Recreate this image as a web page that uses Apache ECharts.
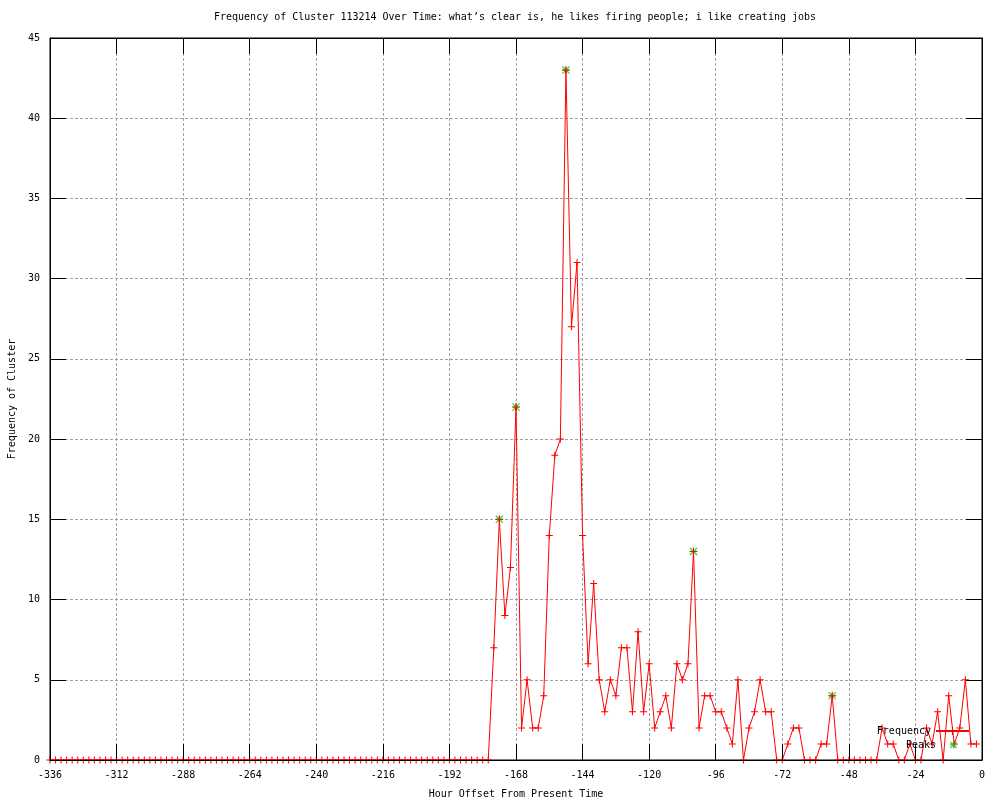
<!DOCTYPE html>
<html>
<head>
<meta charset="utf-8">
<script src="https://cdn.jsdelivr.net/npm/echarts@6/dist/echarts.min.js"></script>
<style>html,body{margin:0;padding:0;background:#fff}#c{width:1000px;height:800px}</style>
</head>
<body>
<div id="c"></div>
<script>
// ---- data ----
const titleText = 'Frequency of Cluster 113214 Over Time: what’s clear is, he likes firing people; i like creating jobs';
const xName = 'Hour Offset From Present Time';
const yName = 'Frequency of Cluster';
const startHour = -336;   // first sample
const stepHours = 2;      // samples every 2 hours
const frequency = [
  0,0,0,0,0,0,0,0,0,0, 0,0,0,0,0,0,0,0,0,0,
  0,0,0,0,0,0,0,0,0,0, 0,0,0,0,0,0,0,0,0,0,
  0,0,0,0,0,0,0,0,0,0, 0,0,0,0,0,0,0,0,0,0,
  0,0,0,0,0,0,0,0,0,0, 0,0,0,0,0,0,0,0,0,0,
  7,15,9,12,22,2,5,2,2,4,
  14,19,20,43,27,31,14,6,11,5,
  3,5,4,7,7,3,8,3,6,2,
  3,4,2,6,5,6,13,2,4,4,
  3,3,2,1,5,0,2,3,5,3,
  3,0,0,1,2,2,0,0,0,1,
  1,4,0,0,0,0,0,0,0,0,
  2,1,1,0,0,1,0,0,2,1,
  3,0,4,1,2,5,1,1
];
const peakHours  = [-174, -168, -150, -104, -54];
const peakValues = [15, 22, 43, 13, 4];
const xMin = -336, xMax = 0, xStep = 24;
const yMin = 0, yMax = 45, yStep = 5;

// ---- build chart ----
const freqData = frequency.map((v, i) => [startHour + i * stepHours, v]);
const peakData = peakHours.map((h, i) => [h, peakValues[i]]);

const FONT = 'DejaVu Sans Mono';
const PLUS = 'path://M0,3L7,3L7,4L0,4Z M3,0L4,0L4,7L3,7Z';
const STAR = 'path://M0,3L7,3L7,4L0,4Z M3,0L4,0L4,7L3,7Z M0,0.7L0.7,0L7,6.3L6.3,7Z M7,0.7L6.3,0L0,6.3L0.7,7Z';
const gridLine = () => ({ show: true, lineStyle: { color: '#a0a0a0', type: [3, 2], width: 1 } });
const blackLine = () => ({ show: true, onZero: false, lineStyle: { color: '#000', width: 1 } });
const tick = () => ({ show: true, inside: true, length: 16, lineStyle: { color: '#000', width: 1 } });
const legendText = { fontFamily: FONT, fontSize: 10, color: '#000' };

const chart = echarts.init(document.getElementById('c'), null, { renderer: 'canvas' });
chart.setOption({
  animation: false,
  backgroundColor: '#fff',
  textStyle: { fontFamily: FONT },
  title: {
    text: titleText, left: 214, top: 12, padding: 0,
    textStyle: { fontFamily: FONT, fontSize: 10, fontWeight: 'normal', color: '#000' }
  },
  grid: { left: 50, right: 18, top: 38, bottom: 40, containLabel: false, outerBoundsMode: 'none',
          show: true, borderColor: '#000', borderWidth: 1, backgroundColor: 'transparent' },
  legend: [
    { data: ['Frequency'], right: 30, top: 726, padding: 0, align: 'right', itemWidth: 33, itemHeight: 10,
      textStyle: legendText },
    { data: [{ name: 'Peaks', icon: STAR }], right: 43, top: 740, padding: 0, align: 'right', itemWidth: 7, itemHeight: 7,
      textStyle: Object.assign({ padding: [0, 9, 0, 0] }, legendText) }
  ],
  xAxis: [
    { type: 'value', position: 'bottom', min: xMin, max: xMax, interval: xStep, z: 5,
      name: xName, nameLocation: 'middle', nameGap: 29,
      nameTextStyle: { fontFamily: FONT, fontSize: 10, color: '#000' },
      axisLine: blackLine(), axisTick: tick(), splitLine: { show: false },
      axisLabel: { fontFamily: FONT, fontSize: 10, color: '#000', margin: 10, showMinLabel: true, showMaxLabel: true } },
    { type: 'value', position: 'top', min: xMin, max: xMax, interval: xStep, z: 0,
      axisLine: blackLine(), axisTick: tick(), splitLine: gridLine(), axisLabel: { show: false } }
  ],
  yAxis: [
    { type: 'value', position: 'left', min: yMin, max: yMax, interval: yStep,
      name: yName, nameLocation: 'middle', nameGap: 31,
      nameTextStyle: { fontFamily: FONT, fontSize: 10, color: '#000' },
      axisLine: blackLine(), axisTick: tick(), splitLine: gridLine(),
      axisLabel: { fontFamily: FONT, fontSize: 10, color: '#000', margin: 10 } },
    { type: 'value', position: 'right', min: yMin, max: yMax, interval: yStep,
      axisLine: blackLine(), axisTick: tick(), splitLine: { show: false }, axisLabel: { show: false } }
  ],
  series: [
    { name: 'Peaks', type: 'scatter', xAxisIndex: 0, yAxisIndex: 0, data: peakData, z: 2,
      symbol: STAR, symbolSize: 8, itemStyle: { color: '#00c000', borderWidth: 0 } },
    { name: 'Frequency', type: 'line', xAxisIndex: 0, yAxisIndex: 0, data: freqData, z: 3,
      showSymbol: true, showAllSymbol: true, symbol: PLUS, symbolSize: 7,
      lineStyle: { color: '#ff0000', width: 1 }, itemStyle: { color: '#ff0000', borderWidth: 0 },
      emphasis: { disabled: true } }
  ]
});
</script>
</body>
</html>
